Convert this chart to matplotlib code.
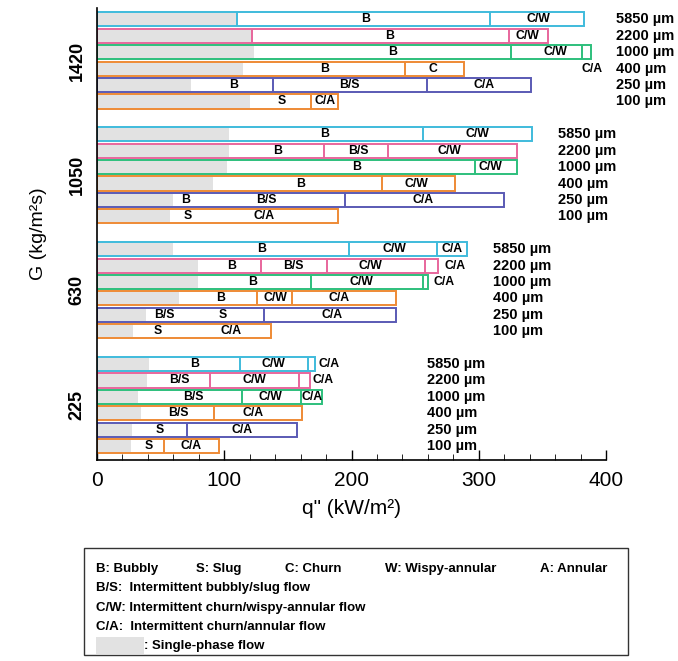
import matplotlib.pyplot as plt
from matplotlib.patches import Rectangle

plt.rcParams['font.family'] = ['Liberation Sans', 'DejaVu Sans']

# mass fluxes (bottom to top) and channel diameters (bottom to top in each group)
groups = ['225', '630', '1050', '1420']
diameters = ['100 \u00b5m', '250 \u00b5m', '400 \u00b5m', '1000 \u00b5m', '2200 \u00b5m', '5850 \u00b5m']
colors = ['#ee8a35', '#5a5ab4', '#ee8a35', '#2dbf7c', '#e8669c', '#3fbbdc']

# end of single-phase region (kW/m2), per group, per diameter
single_end = [
    [26, 27, 34, 32, 39, 40],
    [28, 38, 64, 79, 79, 59],
    [57, 59, 91, 102, 103, 103],
    [120, 73, 114, 123, 122, 110],
]
# end of the bar
bar_end = [
    [96, 157, 161, 177, 167, 171],
    [137, 235, 235, 260, 268, 291],
    [189, 320, 281, 330, 330, 342],
    [189, 341, 288, 388, 354, 383],
]
# regime boundaries drawn as lines
bounds = [
    [[53], [71], [92], [114, 160], [89, 159], [112, 166]],
    [[], [131], [126, 153], [168, 256], [129, 181, 258], [198, 267]],
    [[], [195], [224], [297], [178, 229], [256]],
    [[168], [138, 259], [242], [325, 381], [122, 324], [110, 309]],
]
# regime labels (text, q")
regimes = [
    [[('S', 41), ('C/A', 74)], [('S', 49), ('C/A', 114)], [('B/S', 64), ('C/A', 123)],
     [('B/S', 76), ('C/W', 136), ('C/A', 169)], [('B/S', 65), ('C/W', 124), ('C/A', 178)],
     [('B', 77), ('C/W', 139), ('C/A', 182)]],
    [[('S', 48), ('C/A', 105)], [('B/S', 53), ('S', 99), ('C/A', 185)],
     [('B', 97), ('C/W', 140), ('C/A', 190)], [('B', 122), ('C/W', 208), ('C/A', 273)],
     [('B', 106), ('B/S', 154), ('C/W', 215), ('C/A', 281)],
     [('B', 129), ('C/W', 234), ('C/A', 279)]],
    [[('S', 71), ('C/A', 131)], [('B', 70), ('B/S', 133), ('C/A', 256)],
     [('B', 160), ('C/W', 251)], [('B', 204), ('C/W', 309)],
     [('B', 142), ('B/S', 205), ('C/W', 277)], [('B', 179), ('C/W', 299)]],
    [[('S', 145), ('C/A', 179)], [('B', 107), ('B/S', 198), ('C/A', 304)],
     [('B', 179), ('C', 264), ('C/A', 389)], [('B', 232), ('C/W', 360)],
     [('B', 230), ('C/W', 338)], [('B', 211), ('C/W', 347)]],
]
diam_label_x = [259, 311, 362, 408]

fig = plt.figure(figsize=(6.78, 6.61), dpi=100)
ax = fig.add_axes([0.143, 0.304, 0.751, 0.684])

h = 0.86
for g in range(len(groups)):
    for d in range(len(diameters)):
        y = g * 7 + d
        c = colors[d]
        ax.barh(y, bar_end[g][d], height=h, left=0, color='white', edgecolor=c, linewidth=1.4, zorder=2)
        ax.barh(y, single_end[g][d], height=h - 0.12, left=0.5, color='#e2e2e2', linewidth=0, zorder=3)
        ax.vlines(bounds[g][d], y - h / 2, y + h / 2, color=c, linewidth=1.4, zorder=4)
        for txt, xq in regimes[g][d]:
            ax.text(xq, y, txt, ha='center', va='center', fontsize=8.8, fontweight='bold', zorder=5)
        ax.text(diam_label_x[g], y, diameters[d], ha='left', va='center', fontsize=10.5,
                fontweight='bold', clip_on=False)

ax.set_xlim(0, 400)
ax.set_ylim(-0.85, 26.7)
ax.set_xticks([0, 100, 200, 300, 400])
ax.set_xticks(range(0, 401, 20), minor=True)
ax.set_yticks([g * 7 + 2.5 for g in range(len(groups))])
ax.set_yticklabels(groups, rotation=90, va='center', fontsize=13, fontweight='bold')
ax.tick_params(axis='y', length=0, pad=8)
ax.tick_params(axis='x', labelsize=15, length=7, width=1, direction='in', pad=8)
ax.tick_params(axis='x', which='minor', length=4, direction='in')
for s in ['top', 'right']:
    ax.spines[s].set_visible(False)
ax.spines['left'].set_linewidth(1.2)
ax.spines['bottom'].set_linewidth(1.2)
ax.set_xlabel('q" (kW/m\u00b2)', fontsize=15, labelpad=6)
ax.set_ylabel('G (kg/m\u00b2s)', fontsize=14, labelpad=16)

# key box
fig.patches.append(Rectangle((0.124, 0.009), 0.802, 0.162, transform=fig.transFigure,
                             facecolor='white', edgecolor='#333333', linewidth=1))
key_top = [('B: Bubbly', 0.142), ('S: Slug', 0.289), ('C: Churn', 0.42),
           ('W: Wispy-annular', 0.568), ('A: Annular', 0.797)]
for txt, xf in key_top:
    fig.text(xf, 0.139, txt, fontsize=9.5, fontweight='bold', va='center')
key_lines = ['B/S:  Intermittent bubbly/slug flow',
             'C/W: Intermittent churn/wispy-annular flow',
             'C/A:  Intermittent churn/annular flow']
for i, txt in enumerate(key_lines):
    fig.text(0.142, 0.110 - i * 0.0295, txt, fontsize=9.5, fontweight='bold', va='center')
fig.patches.append(Rectangle((0.142, 0.011), 0.071, 0.025, transform=fig.transFigure,
                             facecolor='#e2e2e2', edgecolor='none'))
fig.text(0.213, 0.0225, ': Single-phase flow', fontsize=9.5, fontweight='bold', va='center')

fig.savefig('out.png', dpi=100)
